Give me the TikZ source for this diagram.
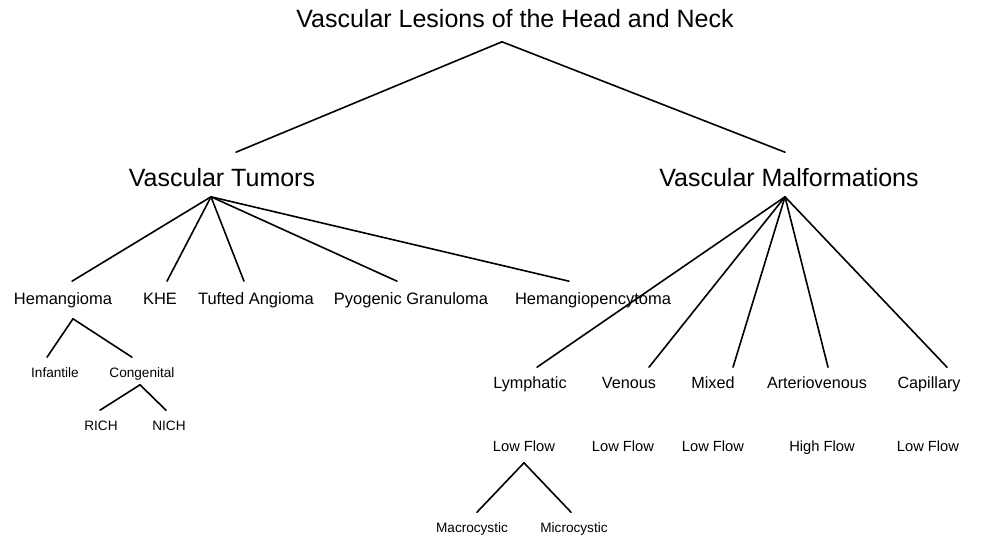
\documentclass[tikz,border=0pt]{standalone}
\usepackage{fontspec}
\setmainfont{Liberation Sans}
\usetikzlibrary{positioning}

\begin{document}
\begin{tikzpicture}[
    x=1pt, y=-1pt,
    line width=1.6pt,
    line cap=round,
    every node/.style={anchor=base, inner xsep=0pt, text depth=0pt},
    titlenode/.style={font=\fontsize{25}{30}\selectfont, text height=18pt, inner ysep=14pt},
    head/.style={font=\fontsize{25}{30}\selectfont, text height=23pt, inner ysep=10pt},
    kind/.style={font=\fontsize{16.5}{20}\selectfont, text height=12pt, text depth=4pt, inner ysep=10pt},
    malf/.style={font=\fontsize{16.2}{20}\selectfont, text height=12pt, inner ysep=8pt},
    flow/.style={font=\fontsize{14.7}{18}\selectfont, text height=11pt, text depth=3pt, inner ysep=8pt},
    sub/.style={font=\fontsize{13.6}{16}\selectfont, text height=12pt, inner ysep=7pt}
]
\useasboundingbox (0,0) rectangle (993,536);

% top
\node[titlenode] (lesions) at (515,27) {Vascular Lesions of the Head and Neck};
\node[head] (tumors) at (222,186) {Vascular Tumors};
\node[head] (malformations) at (789,186) {Vascular Malformations};

% tumors
\node[kind] (hemangioma) at (63,304) {Hemangioma};
\node[kind] (khe) at (160,304) {KHE};
\node[kind] (tufted) at (256,304) {Tufted Angioma};
\node[kind] (pyogenic) at (411,304) {Pyogenic Granuloma};
\node[kind] (hpc) at (593,304) {Hemangiopencytoma};

\node[sub] (infantile) at (55,377) {Infantile};
\node[sub] (congenital) at (142,377) {Congenital};
\node[sub] (rich) at (101,430) {RICH};
\node[sub] (nich) at (169,430) {NICH};

% malformations
\node[malf] (lymphatic) at (530,388) {Lymphatic};
\node[malf] (venous) at (629,388) {Venous};
\node[malf] (mixed) at (713,388) {Mixed};
\node[malf] (avm) at (817,388) {Arteriovenous};
\node[malf] (capillary) at (929,388) {Capillary};

\node[flow] (lymflow) at (524,451) {Low Flow};
\node[flow] (venflow) at (623,451) {Low Flow};
\node[flow] (mixflow) at (713,451) {Low Flow};
\node[flow] (avmflow) at (822,451) {High Flow};
\node[flow] (capflow) at (928,451) {Low Flow};

\node[sub] (macro) at (472,532) {Macrocystic};
\node[sub] (micro) at (574,532) {Microcystic};

% forks
\coordinate (lesions-fork) at ([xshift=-13pt]lesions.south);
\coordinate (tumors-fork) at ([xshift=-11pt]tumors.south);
\coordinate (malf-fork) at ([xshift=-4pt]malformations.south);
\coordinate (hem-fork) at ([xshift=10pt]hemangioma.south);
\coordinate (cong-fork) at ([xshift=-2pt]congenital.south);
\coordinate (lym-fork) at (lymflow.south);

\draw (lesions-fork) -- ([xshift=14pt]tumors.north);
\draw (lesions-fork) -- ([xshift=-4pt]malformations.north);

\draw (tumors-fork) -- ([xshift=9pt]hemangioma.north);
\draw (tumors-fork) -- ([xshift=7pt]khe.north);
\draw (tumors-fork) -- ([xshift=-12pt]tufted.north);
\draw (tumors-fork) -- ([xshift=-14pt]pyogenic.north);
\draw (tumors-fork) -- ([xshift=-24pt]hpc.north);

\draw (hem-fork) -- ([xshift=-8pt]infantile.north);
\draw (hem-fork) -- ([xshift=-10pt]congenital.north);
\draw (cong-fork) -- ([xshift=-1pt]rich.north);
\draw (cong-fork) -- ([xshift=-3pt]nich.north);

\draw (malf-fork) -- ([xshift=7pt]lymphatic.north);
\draw (malf-fork) -- ([xshift=20pt]venous.north);
\draw (malf-fork) -- ([xshift=20pt]mixed.north);
\draw (malf-fork) -- ([xshift=11pt]avm.north);
\draw (malf-fork) -- ([xshift=18pt]capillary.north);

\draw (lym-fork) -- ([xshift=5pt]macro.north);
\draw (lym-fork) -- ([xshift=-3pt]micro.north);

\end{tikzpicture}
\end{document}
